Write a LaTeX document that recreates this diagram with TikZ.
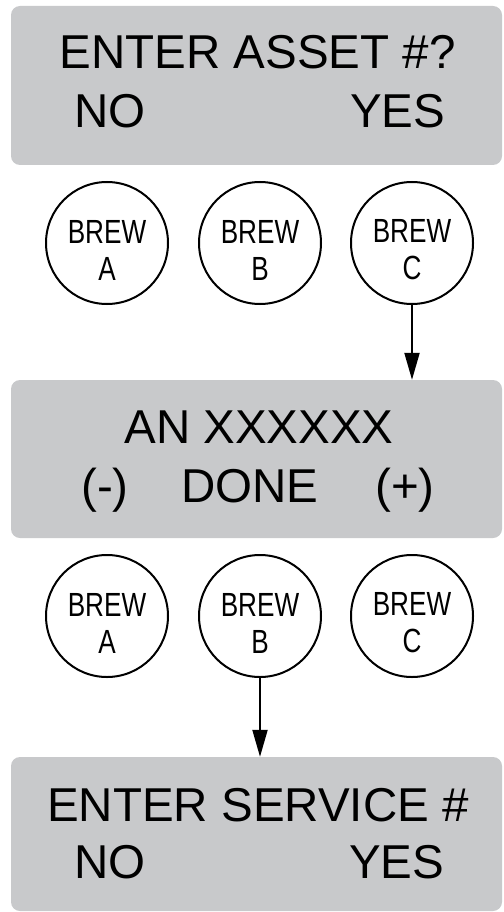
\documentclass[tikz,border=0pt]{standalone}
\usepackage{fontspec}
\setmainfont{Liberation Sans}
\newfontfamily\condensedfont[FakeStretch=0.78]{Liberation Sans}
\usetikzlibrary{arrows.meta}
\definecolor{lcdgray}{RGB}{200,201,203}
\newcommand{\brewlabel}[1]{\rule{0pt}{37pt}BREW\\#1}

\begin{document}
\begin{tikzpicture}[screen/.style={fill=lcdgray, rounded corners=9pt, minimum width=491pt, minimum height=#1, inner sep=0pt},
			button/.style={draw, circle, line width=2pt, minimum size=122pt, inner sep=0pt, align=center,
				font=\condensedfont\fontsize{33.5}{37}\selectfont},
			lcd/.style={inner sep=0pt, anchor=base},
			x=1pt, y=-1pt,
			>={Triangle[length=27pt,width=15pt]},   %Pfeilspitzen
			font=\fontsize{47.5}{57}\selectfont]
			\useasboundingbox (0,0) rectangle (503,912);
			% Anzeige 1
			\node[screen=159pt] (assetBox) at (256.5,85.5) {};
			\node[lcd] (assetTitle) at (257.5,69) {ENTER ASSET \#?};
			\node[lcd, anchor=base west] (assetNo) at (74.5,128) {NO};
			\node[lcd, anchor=base east] (assetYes) at (445.5,128) {YES};
			% Tasten 1
			\foreach \x/\l in {107/A,260/B,412/C} \node[button] (brew\l1) at (\x,243) {\brewlabel{\l}};
			% Anzeige 2
			\node[screen=158pt] (anBox) at (256.5,459) {};
			\node[lcd] (anTitle) at (259,443) {AN XXXXXX};
			\node[lcd, anchor=base west] (anMinus) at (81,502) {(-)};
			\node[lcd] (anDone) at (250,502) {DONE};
			\node[lcd, anchor=base east] (anPlus) at (435,502) {(+)};
			% Tasten 2
			\foreach \x/\l in {107/A,260/B,412/C} \node[button] (brew\l2) at (\x,616) {\brewlabel{\l}};
			% Anzeige 3
			\node[screen=154pt] (serviceBox) at (256.5,834) {};
			\node[lcd] (serviceTitle) at (258,821) {ENTER SERVICE \#};
			\node[lcd, anchor=base west] (serviceNo) at (74.5,878) {NO};
			\node[lcd, anchor=base east] (serviceYes) at (444.5,878) {YES};
			% Pfeile
			\draw[->, line width=2pt] (brewC1) -- (anBox.north -| brewC1);
			\draw[->, line width=2pt] (brewB2) -- (serviceBox.north -| brewB2);
		\end{tikzpicture}
\end{document}
